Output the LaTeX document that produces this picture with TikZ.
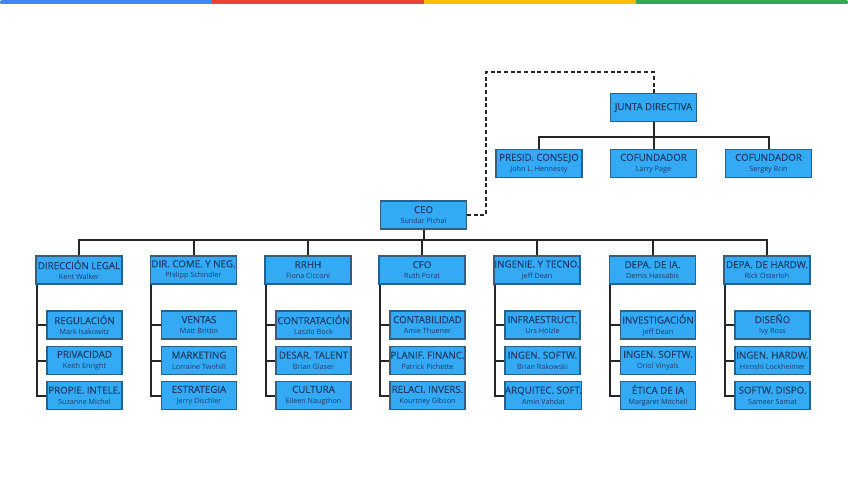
\documentclass[tikz,border=0pt]{standalone}
\usepackage{fontspec}
\setmainfont{Open Sans}
\newfontfamily\semib{Open Sans}[FakeBold=0.35]
\definecolor{boxfill}{HTML}{35AAF4}
\definecolor{boxdraw}{HTML}{2E5F86}
\definecolor{boxtext}{HTML}{1A3D6B}
\definecolor{gblue}{HTML}{4285F4}
\definecolor{gred}{HTML}{EA4335}
\definecolor{gyellow}{HTML}{FBBC05}
\definecolor{ggreen}{HTML}{34A853}
\newcommand\bxt[2]{{\semib\fontsize{7.3}{8}\selectfont #1}\\[-4pt]{\fontsize{5.4}{6}\selectfont #2}}
\tikzset{
  orgbox/.style={draw=boxdraw, line width=0.8pt, fill=boxfill, text=boxtext, align=center,
    inner sep=0pt, minimum width=64.5pt, minimum height=21pt},
  subbox/.style={orgbox, minimum width=56.25pt},
  link/.style={line width=1.5pt, black!85},
  dashlink/.style={line width=1.5pt, black!85, dash pattern=on 3pt off 2pt}
}
\begin{document}
\begin{tikzpicture}[x=0.75pt,y=-0.75pt]
\useasboundingbox (0,0) rectangle (848,477);
\fill[white] (0,0) rectangle (848,477);
% top colour bar
\begin{scope}
\clip[rounded corners=1.5pt] (0,0) rectangle (848,4.5);
\fill[gblue] (0,-2) rectangle (212,4.5);
\fill[gred] (212,-2) rectangle (424,4.5);
\fill[gyellow] (424,-2) rectangle (636,4.5);
\fill[ggreen] (636,-2) rectangle (848,4.5);
\end{scope}
% board
\node[orgbox] (junta) at (653.5,107.5) {{\semib\fontsize{7.3}{8}\selectfont JUNTA DIRECTIVA}};
\node[orgbox] (presid) at (539,163.5) {\bxt{PRESID. CONSEJO}{John L. Hennessy}};
\node[orgbox] (larry) at (653.5,163.5) {\bxt{COFUNDADOR}{Larry Page}};
\node[orgbox] (sergey) at (768.5,163.5) {\bxt{COFUNDADOR}{Sergey Brin}};
\coordinate (jbus) at (653.5,137);
\draw[link] (junta.south) -- (jbus);
\draw[link] (presid.north) |- (jbus) -| (sergey.north);
\draw[link] (larry.north) -- (jbus);
% CEO
\node[orgbox] (ceo) at (423.5,215) {\bxt{CEO}{Sundar Pichai}};
\coordinate (d1) at (486,215);
\coordinate (d2) at (486,72);
\coordinate (d3) at (653.5,72);
\draw[dashlink] (ceo.east) -- (d1) -- (d2) -- (d3) -- (junta.north);
% level 2
\node[orgbox] (legal) at (79,270) {\bxt{DIRECCIÓN LEGAL}{Kent Walker}};
\node[orgbox] (come) at (193.5,270) {\bxt{DIR. COME. Y NEG.}{Philipp Schindler}};
\node[orgbox] (rrhh) at (308,270) {\bxt{RRHH}{Fiona Cicconi}};
\node[orgbox] (cfo) at (422,270) {\bxt{CFO}{Ruth Porat}};
\node[orgbox] (ing) at (537,270) {\bxt{INGENIE. Y TECNO.}{Jeff Dean}};
\node[orgbox] (ia) at (652.5,270) {\bxt{DEPA. DE IA.}{Demis Hassabis}};
\node[orgbox] (hw) at (767,270) {\bxt{DEPA. DE HARDW.}{Rick Osterloh}};
\coordinate (bus) at (423.5,240);
\draw[link] (ceo.south) -- (bus);
\draw[link] (legal.north) |- (bus) -| (hw.north);
\foreach \n in {come,rrhh,cfo,ing,ia} \draw[link] (\n.north) -- (\n.north |- bus);
% children
\foreach \p/\a/\an/\b/\bn/\c/\cn [count=\i] in {
  legal/REGULACIÓN/Mark Isakowitz/PRIVACIDAD/Keith Enright/PROPIE. INTELE./Suzanne Michel,
  come/VENTAS/Matt Brittin/MARKETING/Lorraine Twohill/ESTRATEGIA/Jerry Dischler,
  rrhh/CONTRATACIÓN/Laszlo Bock/DESAR. TALENT/Brian Glaser/CULTURA/Eileen Naugthon,
  cfo/CONTABILIDAD/Amie Thuener/PLANIF. FINANC./Patrick Pichette/RELACI. INVERS./Kourtney Gibson,
  ing/INFRAESTRUCT./Urs Hölzle/INGEN. SOFTW./Brian Rakowski/ARQUITEC. SOFT./Amin Vahdat,
  ia/INVESTIGACIÓN/Jeff Dean/INGEN. SOFTW./Oriol Vinyals/ÉTICA DE IA/Margaret Mitchell,
  hw/DISEÑO/Ivy Ross/INGEN. HARDW./Hiroshi Lockheimer/SOFTW. DISPO./Sameer Samat}{
  \node[subbox, anchor=west] (\p1) at ([xshift=11*0.75pt]\p.west |- 0,325) {\bxt{\a}{\an}};
  \node[subbox, anchor=west] (\p2) at ([xshift=11*0.75pt]\p.west |- 0,360.5) {\bxt{\b}{\bn}};
  \node[subbox, anchor=west] (\p3) at ([xshift=11*0.75pt]\p.west |- 0,395.5) {\bxt{\c}{\cn}};
  \coordinate (\p top) at ([xshift=1.5*0.75pt]\p.south west);
  \draw[link] (\p top) |- (\p3.west);
  \draw[link] (\p1.west) -- (\p1.west -| \p top);
  \draw[link] (\p2.west) -- (\p2.west -| \p top);
}
\end{tikzpicture}
\end{document}
